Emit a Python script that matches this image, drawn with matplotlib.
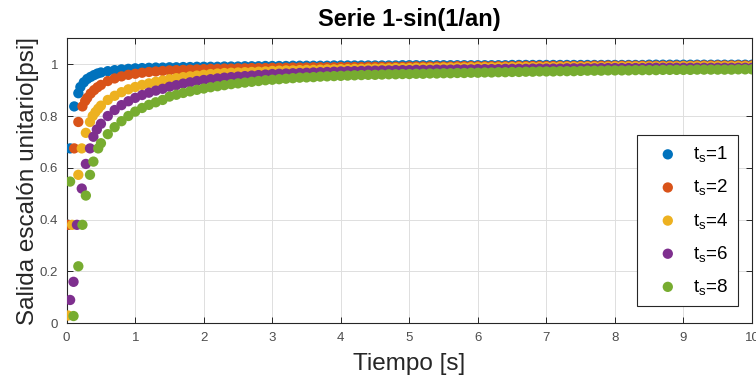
import numpy as np
import matplotlib.pyplot as plt

plt.rcParams['font.family'] = ['Liberation Sans', 'DejaVu Sans']
plt.rcParams['mathtext.fontset'] = 'custom'
plt.rcParams['mathtext.rm'] = 'Liberation Sans'

# shared sampling grid for the dense part (0.5 .. 10.0 s)
t_grid = np.arange(5, 101) / 10

# ts = 1
blue_t_head = [0.02, 0.05, 0.11, 0.17, 0.2, 0.25, 0.3, 0.35, 0.4, 0.45]
blue_y_head = [0.38, 0.675, 0.837, 0.888, 0.912, 0.930, 0.943, 0.951, 0.958, 0.964]
blue_y = [0.968, 0.973, 0.977, 0.980, 0.982, 0.984, 0.985, 0.986, 0.987, 0.987,
          0.988, 0.988, 0.989, 0.989, 0.990, 0.990, 0.990, 0.990, 0.991, 0.991,
          0.991, 0.992, 0.992, 0.992, 0.993, 0.993, 0.993, 0.993, 0.994, 0.994,
          0.994, 0.994, 0.994, 0.994, 0.995, 0.995, 0.995, 0.995, 0.995, 0.995,
          0.995, 0.995, 0.995, 0.995, 0.996, 0.996, 0.996, 0.996, 0.996, 0.996,
          0.996, 0.996, 0.996, 0.996, 0.996, 0.996, 0.996, 0.996, 0.996, 0.996,
          0.997, 0.997, 0.997, 0.997, 0.997, 0.997, 0.997, 0.997, 0.997, 0.997,
          0.997, 0.997, 0.997, 0.997, 0.997, 0.997, 0.997, 0.997, 0.997, 0.997,
          0.998, 0.998, 0.998, 0.998, 0.998, 0.998, 0.998, 0.998, 0.998, 0.998,
          0.998, 0.998, 0.998, 0.998, 0.998, 0.998]

# ts = 2
orange_t_head = [0.02, 0.11, 0.17, 0.23, 0.27, 0.3, 0.35, 0.4, 0.45]
orange_y_head = [0.38, 0.675, 0.777, 0.837, 0.858, 0.870, 0.887, 0.900, 0.911]
orange_y = [0.920, 0.935, 0.945, 0.953, 0.959, 0.963, 0.967, 0.970, 0.972, 0.974,
            0.976, 0.977, 0.978, 0.979, 0.980, 0.981, 0.982, 0.982, 0.983, 0.983,
            0.984, 0.984, 0.985, 0.985, 0.985, 0.986, 0.986, 0.986, 0.987, 0.987,
            0.987, 0.988, 0.988, 0.988, 0.988, 0.989, 0.989, 0.989, 0.989, 0.990,
            0.990, 0.990, 0.990, 0.990, 0.990, 0.991, 0.991, 0.991, 0.991, 0.991,
            0.991, 0.991, 0.992, 0.992, 0.992, 0.992, 0.992, 0.992, 0.992, 0.992,
            0.992, 0.993, 0.993, 0.993, 0.993, 0.993, 0.993, 0.993, 0.993, 0.993,
            0.993, 0.993, 0.994, 0.994, 0.994, 0.994, 0.994, 0.994, 0.994, 0.994,
            0.994, 0.994, 0.994, 0.994, 0.994, 0.994, 0.994, 0.995, 0.995, 0.995,
            0.995, 0.995, 0.995, 0.995, 0.995, 0.995]

# ts = 4
yellow_t_head = [0.02, 0.08, 0.17, 0.22, 0.28, 0.34, 0.38, 0.42, 0.46]
yellow_y_head = [0.03, 0.38, 0.573, 0.675, 0.735, 0.777, 0.800, 0.815, 0.828]
yellow_y = [0.840, 0.862, 0.878, 0.892, 0.903, 0.912, 0.920, 0.926, 0.932, 0.937,
            0.942, 0.946, 0.950, 0.953, 0.956, 0.959, 0.962, 0.964, 0.966, 0.967,
            0.968, 0.969, 0.970, 0.971, 0.972, 0.974, 0.975, 0.976, 0.976, 0.977,
            0.978, 0.978, 0.979, 0.980, 0.980, 0.981, 0.981, 0.982, 0.982, 0.983,
            0.983, 0.984, 0.984, 0.985, 0.985, 0.985, 0.986, 0.986, 0.986, 0.986,
            0.987, 0.987, 0.987, 0.987, 0.988, 0.988, 0.988, 0.988, 0.988, 0.988,
            0.989, 0.989, 0.989, 0.989, 0.989, 0.989, 0.989, 0.990, 0.990, 0.990,
            0.990, 0.990, 0.990, 0.990, 0.990, 0.991, 0.991, 0.991, 0.991, 0.991,
            0.991, 0.991, 0.991, 0.991, 0.991, 0.992, 0.992, 0.992, 0.992, 0.992,
            0.992, 0.992, 0.992, 0.992, 0.992, 0.992]

# ts = 6
purple_t_head = [0.05, 0.1, 0.15, 0.22, 0.28, 0.34, 0.39, 0.44]
purple_y_head = [0.09, 0.16, 0.38, 0.52, 0.615, 0.675, 0.72, 0.748]
purple_y = [0.770, 0.800, 0.823, 0.842, 0.857, 0.870, 0.881, 0.890, 0.898, 0.905,
            0.913, 0.919, 0.925, 0.930, 0.935, 0.939, 0.942, 0.945, 0.948, 0.950,
            0.952, 0.954, 0.956, 0.958, 0.960, 0.962, 0.963, 0.964, 0.965, 0.966,
            0.967, 0.968, 0.969, 0.970, 0.971, 0.972, 0.973, 0.973, 0.974, 0.975,
            0.975, 0.976, 0.976, 0.977, 0.977, 0.977, 0.978, 0.978, 0.978, 0.979,
            0.979, 0.979, 0.980, 0.980, 0.980, 0.981, 0.981, 0.981, 0.981, 0.982,
            0.982, 0.982, 0.982, 0.983, 0.983, 0.983, 0.983, 0.983, 0.984, 0.984,
            0.984, 0.984, 0.984, 0.985, 0.985, 0.985, 0.985, 0.985, 0.985, 0.985,
            0.986, 0.986, 0.986, 0.986, 0.986, 0.986, 0.986, 0.986, 0.986, 0.986,
            0.986, 0.986, 0.986, 0.986, 0.986, 0.986]

# ts = 8
green_t_head = [0.05, 0.1, 0.17, 0.23, 0.28, 0.34, 0.39, 0.46]
green_y_head = [0.547, 0.028, 0.22, 0.38, 0.493, 0.573, 0.624, 0.675]
green_y = [0.695, 0.730, 0.757, 0.780, 0.800, 0.817, 0.831, 0.843, 0.853, 0.862,
           0.875, 0.882, 0.889, 0.895, 0.901, 0.906, 0.911, 0.915, 0.919, 0.923,
           0.926, 0.929, 0.932, 0.935, 0.938, 0.940, 0.942, 0.944, 0.946, 0.948,
           0.949, 0.950, 0.952, 0.953, 0.954, 0.955, 0.956, 0.957, 0.958, 0.959,
           0.959, 0.960, 0.961, 0.961, 0.962, 0.962, 0.963, 0.963, 0.964, 0.964,
           0.965, 0.965, 0.966, 0.966, 0.967, 0.967, 0.968, 0.968, 0.969, 0.969,
           0.970, 0.970, 0.971, 0.971, 0.972, 0.972, 0.972, 0.973, 0.973, 0.973,
           0.974, 0.975, 0.975, 0.975, 0.976, 0.976, 0.976, 0.976, 0.977, 0.977,
           0.977, 0.977, 0.978, 0.978, 0.978, 0.978, 0.978, 0.979, 0.979, 0.979,
           0.979, 0.979, 0.979, 0.980, 0.980, 0.980]

labels = ['1', '2', '4', '6', '8']
colors = ['#0072BD', '#D95319', '#EDB120', '#7E2F8E', '#77AC30']

series = [(blue_t_head, blue_y_head, blue_y),
          (orange_t_head, orange_y_head, orange_y),
          (yellow_t_head, yellow_y_head, yellow_y),
          (purple_t_head, purple_y_head, purple_y),
          (green_t_head, green_y_head, green_y)]

fig = plt.figure(figsize=(7.56, 3.79), dpi=100)
ax = fig.add_axes([0.0882, 0.147, 0.9065, 0.752])

for (th, yh, yd), lab, col in zip(series, labels, colors):
  t = np.concatenate([th, t_grid])
  y = np.concatenate([yh, yd])
  ax.scatter(t, y, s=55, color=col, edgecolors='none',
             label=r'$\mathregular{t_s}$=' + lab, zorder=3)

ax.set_xlim(0, 10)
ax.set_ylim(0, 1.1)
ax.set_xticks(range(0, 11))
ax.set_yticks([0, 0.2, 0.4, 0.6, 0.8, 1])
ax.set_yticklabels(['0', '0.2', '0.4', '0.6', '0.8', '1'])
ax.grid(True, color='#dedede', linewidth=0.7)
ax.set_axisbelow(True)
ax.tick_params(direction='in', top=True, right=True, length=4, width=0.7,
               colors='#262626', labelsize=9.5, labelcolor='#4d4d4d', pad=6)
for sp in ax.spines.values():
  sp.set_color('#262626')
  sp.set_linewidth(0.8)

ax.set_title('Serie 1-sin(1/an)', fontsize=17, fontweight='bold', pad=9)
ax.set_xlabel('Tiempo [s]', fontsize=17.5, color='#262626', labelpad=7)
ax.set_ylabel('Salida escalón unitario[psi]', fontsize=17.5, color='#262626',
              labelpad=1)

leg = ax.legend(loc='upper left', bbox_to_anchor=(0.832, 0.661), fontsize=13.5,
                frameon=True, fancybox=False, framealpha=1, edgecolor='#262626',
                borderpad=0.5, labelspacing=0.7, handletextpad=0.19,
                handlelength=2.3, borderaxespad=0, markerscale=1.0)
leg.get_frame().set_linewidth(0.8)

fig.savefig('out.png', dpi=100)
